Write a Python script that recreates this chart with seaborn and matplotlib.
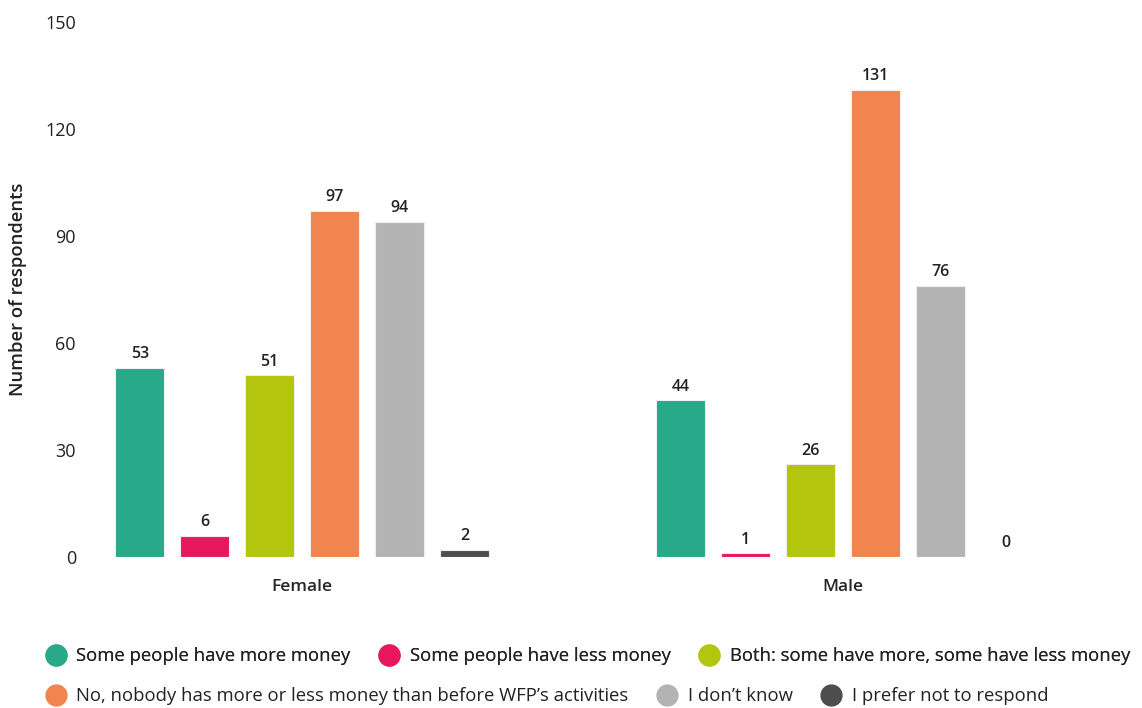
import pandas as pd
import matplotlib
matplotlib.use("Agg")
import matplotlib.pyplot as plt
from matplotlib.lines import Line2D
import seaborn as sns

genders = ["Female", "Male"]
responses = [
    "Some people have more money",
    "Some people have less money",
    "Both: some have more, some have less money",
    "No, nobody has more or less money than before WFP\u2019s activities",
    "I don\u2019t know",
    "I prefer not to respond",
]
female_counts = [53, 6, 51, 97, 94, 2]
male_counts = [44, 1, 26, 131, 76, 0]
colors = ["#27A98A", "#E8175D", "#B4C50E", "#F0854F", "#B3B3B3", "#4D4D4D"]
y_ticks = [0, 30, 60, 90, 120, 150]

rows = []
for g, counts in zip(genders, [female_counts, male_counts]):
    for r, c in zip(responses, counts):
        rows.append({"gender": g, "response": r, "count": c})
df = pd.DataFrame(rows)

sns.set_style("white")
plt.rcParams["font.family"] = ["Open Sans", "DejaVu Sans"]
plt.rcParams["text.color"] = "#222222"

fig = plt.figure(figsize=(11.42, 7.08), dpi=100)
ax = fig.add_axes([85.6 / 1142, 151 / 708, 974 / 1142, 535 / 708])

sns.barplot(data=df, x="gender", y="count", hue="response", hue_order=responses,
            palette=colors, saturation=1, width=0.72, gap=0.25, legend=False,
            ax=ax, edgecolor="#eeeeee", linewidth=0.8)

for cont in ax.containers:
    ax.bar_label(cont, fmt="%d", padding=4, fontsize=11.5, fontweight="semibold",
                 color="#222222")

ax.set_xlim(-0.4, 1.4)
ax.set_ylim(0, 150)
ax.set_yticks(y_ticks)
ax.set_xlabel("")
ax.set_ylabel("Number of respondents", fontsize=13.3, fontweight="semibold",
              color="#222222")
ax.yaxis.set_label_coords(-0.06, 0.5)
ax.tick_params(axis="y", length=0, pad=7, labelsize=13, labelcolor="#222222")
ax.tick_params(axis="x", length=0, pad=16, labelsize=12.5)
for lab in ax.get_xticklabels():
    lab.set_fontweight("semibold")
for s in ax.spines.values():
    s.set_visible(False)

handles = [Line2D([0], [0], marker="o", linestyle="", markersize=15,
                  markerfacecolor=c, markeredgecolor=c) for c in colors]

leg_kw = dict(loc="center left", ncol=3, frameon=False, fontsize=13.3,
              handletextpad=0.55, columnspacing=1.55, borderaxespad=0,
              borderpad=0, handlelength=1.1)
leg1 = fig.legend(handles[:3], responses[:3],
                  bbox_to_anchor=(0.04, 1 - 656 / 708), **leg_kw)
leg2 = fig.legend(handles[3:], responses[3:],
                  bbox_to_anchor=(0.04, 1 - 696 / 708), **leg_kw)
fig.add_artist(leg1)

fig.savefig("out.png", dpi=100)
